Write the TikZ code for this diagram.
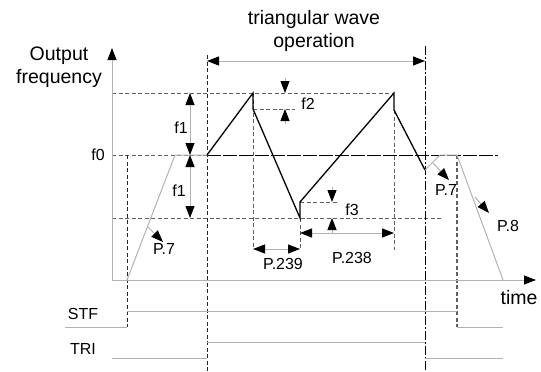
\documentclass[tikz,border=0pt]{standalone}
\usepackage{fontspec}
\setmainfont{Liberation Sans}
\usetikzlibrary{arrows.meta}

\begin{document}
\begin{tikzpicture}[x=1pt,y=-1pt,
  tip/.style={-{Triangle[length=12pt,width=9pt,color=black]}},
  twotips/.style={{Triangle[length=12pt,width=9pt,color=black]}-{Triangle[length=12pt,width=9pt,color=black]}},
  guide/.style={gray!75!black,line width=1pt,dash pattern=on 4pt off 2.5pt},
  vguide/.style={black!85,line width=1pt,dash pattern=on 4pt off 2.5pt},
  sig/.style={gray!60,line width=1pt},
  wave/.style={black,line width=1.3pt},
  big/.style={font=\fontsize{19.5}{23}\selectfont,inner sep=0pt,align=center},
  lbl/.style={font=\fontsize{16}{18}\selectfont,inner sep=0pt}]
  \useasboundingbox (0,0) rectangle (541,372);
  % axes and levels
  \coordinate (O) at (112,280);
  \coordinate (Ytip) at (112,48);
  \coordinate (Xtip) at (536,280);
  \coordinate (Hl) at (112,93);  \coordinate (Hr) at (394,93);
  \coordinate (Ll) at (112,218); \coordinate (Lr) at (442,218);
  \coordinate (Zl) at (112,155); \coordinate (Zr) at (498,155);
  % output frequency
  \coordinate (A0) at (127,280); \coordinate (A1) at (175,155);
  \coordinate (W0) at (207,155); \coordinate (W1) at (253,93);
  \coordinate (W2) at (253,109); \coordinate (W3) at (300,218);
  \coordinate (W4) at (300,202); \coordinate (W5) at (394,93);
  \coordinate (W6) at (394,110); \coordinate (W7) at (425,170);
  \coordinate (W8) at (440,155); \coordinate (W9) at (457,155);
  \coordinate (W10) at (503,280);
  % signals
  \coordinate (Sa) at (127,155); \coordinate (Sb) at (127,327);
  \coordinate (Q0) at (65,327);  \coordinate (Q1) at (127,311);
  \coordinate (Q2) at (457,311); \coordinate (Q3) at (457,327);
  \coordinate (Q4) at (503,327);
  \coordinate (Ta) at (207,55);  \coordinate (Tb) at (207,372);
  \coordinate (Tc) at (425,46);  \coordinate (Td) at (425,372);
  \coordinate (R0) at (112,358); \coordinate (R1) at (207,358);
  \coordinate (R2) at (207,342); \coordinate (R3) at (425,342);
  \coordinate (R4) at (425,358); \coordinate (R5) at (503,358);

  \draw[guide] (Hl) -- (Hr);
  \draw[guide] (Ll) -- (Lr);
  \draw[guide] (Zl) -- (W0);
  \draw[black,line width=1pt,dash pattern=on 14pt off 2pt] (W0) -- (Zr);
  \draw[vguide] (Sa) -- (Sb);
  \draw[vguide] (Ta) -- (Tb);
  \draw[black,line width=1pt,dash pattern=on 9pt off 2pt on 2pt off 2pt] (Tc) -- (Td);
  \draw[guide] (W1) -- (253,248);
  \draw[guide] (W3) -- (300,250);
  \draw[guide] (W6) -- (394,250);
  \draw[guide,line width=1.3pt] (W9) -- (Q3);
  \draw[guide] (W2) -- (295,109);
  \draw[guide] (W4) -- (337,202);

  \draw[sig,tip] (O) -- (Ytip);
  \draw[sig,tip] (O) -- (Xtip);
  \draw[sig] (A0) -- (A1) -- (W0);
  \draw[wave] (W0) -- (W1) -- (W2) -- (W3) -- (W4) -- (W5) -- (W6) -- (W7);
  \draw[sig] (W7) -- (W8) -- (W9) -- (W10);
  \draw[sig] (Q0) -- (Sb);
  \draw[sig] (Q1) -- (Q2);
  \draw[sig] (Q3) -- (Q4);
  \draw[sig] (R0) -- (R1);
  \draw[sig] (R2) -- (R3);
  \draw[sig] (R4) -- (R5);

  % dimension arrows
  \coordinate (Ka) at (207,61);  \coordinate (Kb) at (425,61);
  \coordinate (F1a) at (190,93); \coordinate (F1b) at (190,155);
  \coordinate (F1c) at (190,218);
  \coordinate (G0) at (285,78);  \coordinate (G1) at (285,93);
  \coordinate (G2) at (285,124); \coordinate (G3) at (285,109);
  \coordinate (H0) at (332,187); \coordinate (H1) at (332,202);
  \coordinate (H2) at (332,233); \coordinate (H3) at (332,218);
  \coordinate (J0) at (253,249); \coordinate (J1) at (300,249);
  \coordinate (J2) at (300,233); \coordinate (J3) at (394,233);
  \coordinate (M0) at (148,227); \coordinate (M1) at (163,242);
  \coordinate (M2) at (433,163); \coordinate (M3) at (449,180);
  \coordinate (M4) at (475,197); \coordinate (M5) at (489,213);
  \draw[sig,twotips] (Ka) -- (Kb);
  \draw[sig,twotips] (F1a) -- (F1b);
  \draw[sig,twotips] (F1b) -- (F1c);
  \draw[sig,tip] (G0) -- (G1);
  \draw[sig,tip] (G2) -- (G3);
  \draw[sig,tip] (H0) -- (H1);
  \draw[sig,tip] (H2) -- (H3);
  \draw[sig,twotips] (J0) -- (J1);
  \draw[sig,twotips] (J2) -- (J3);
  \draw[sig,tip] (M0) -- (M1);
  \draw[sig,tip] (M2) -- (M3);
  \draw[sig,tip] (M4) -- (M5);

  % texts
  \node[big] (ttl) at (314,31) {triangular wave\\operation};
  \node[big] (yl) at (59,67) {Output\\frequency};
  \node[big] (xl) at (519,298) {time};
  \node[lbl] (f0) at (98,155) {f0};
  \node[lbl] (f1u) at (181,128) {f1};
  \node[lbl] (f1d) at (179,191) {f1};
  \node[lbl] (f2) at (308,104) {f2};
  \node[lbl] (f3) at (352,210) {f3};
  \node[lbl] (p239) at (283,264) {P.239};
  \node[lbl] (p238) at (352,258) {P.238};
  \node[lbl] (p7a) at (164,249) {P.7};
  \node[lbl] (p7b) at (446,190) {P.7};
  \node[lbl] (p8) at (508,226) {P.8};
  \node[lbl] (stf) at (83,314) {STF};
  \node[lbl] (tri) at (83,349) {TRI};
\end{tikzpicture}
\end{document}
